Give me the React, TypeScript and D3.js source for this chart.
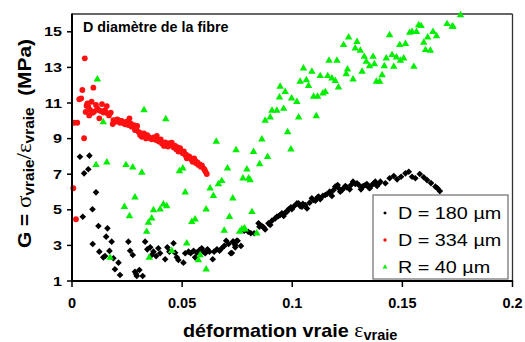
import React from "react";
import * as d3 from "d3";

const W = 525;
const H = 342;

const xTicks = [0, 0.05, 0.1, 0.15, 0.2];
const xTickLabels = ["0", "0.05", "0.1", "0.15", "0.2"];
const yTicks = [1, 3, 5, 7, 9, 11, 13, 15];
const legendLabels = ["D = 180 µm", "D = 334 µm", "R = 40 µm"];
const seriesColors = ["#000000", "#ff1010", "#00ee00"];
const titleText = "D diamètre de la fibre";

// D = 180 µm (black diamonds)
const d180: [number, number][] = [
  [0.0036, 7.98], [0.0079, 8.04], [0.0055, 7.05], [0.0074, 7.28], [0.0109, 5.98], [0.0093, 5.03],
  [0.0049, 4.61], [0.012, 4.09], [0.0161, 3.96], [0.0155, 3.49], [0.018, 3.21], [0.0094, 3.08],
  [0.0124, 2.65], [0.017, 2.69], [0.0142, 2.33], [0.015, 2.4], [0.0188, 2.28], [0.0211, 2.03],
  [0.0195, 1.66], [0.0218, 1.34], [0.0256, 3.21], [0.0264, 2.7], [0.0276, 2.46], [0.0286, 1.52],
  [0.0294, 1.28], [0.0291, 1.39], [0.0306, 1.62], [0.0321, 1.28], [0.0332, 3.21], [0.0342, 2.78],
  [0.0355, 2.89], [0.0362, 2.46], [0.037, 2.65], [0.0382, 2.4], [0.0392, 2.84], [0.04, 2.56],
  [0.0423, 2.22], [0.0433, 2.89], [0.0442, 2.65], [0.0461, 3.12], [0.0468, 2.59], [0.0476, 2.33],
  [0.0483, 2.18], [0.0506, 2.03], [0.0514, 2.56], [0.0529, 2.65], [0.0539, 2.56], [0.0552, 2.7],
  [0.0559, 2.33], [0.0567, 2.59], [0.0579, 2.74], [0.0589, 2.84], [0.0597, 2.65], [0.0605, 2.56],
  [0.0615, 2.78], [0.0624, 2.65], [0.0639, 2.22], [0.0645, 2.65], [0.0658, 2.78], [0.067, 2.7],
  [0.068, 2.84], [0.0691, 2.97], [0.07, 3.26], [0.0711, 3.08], [0.0721, 2.56], [0.073, 3.21],
  [0.0741, 3.02], [0.0752, 3.26], [0.0733, 3.21], [0.0748, 3.26], [0.0767, 2.97], [0.0741, 2.89],
  [0.0726, 2.57], [0.0782, 3.83], [0.08, 3.77], [0.0812, 3.68], [0.0827, 3.68], [0.0847, 4.24],
  [0.0851, 4.05], [0.0862, 4.09], [0.087, 4.02], [0.0877, 3.9], [0.0892, 4.24], [0.09, 4.15],
  [0.0908, 4.39], [0.0923, 4.52], [0.093, 4.61], [0.0938, 4.65], [0.0945, 4.71], [0.0953, 4.8],
  [0.0961, 4.65], [0.0968, 4.84], [0.0976, 4.89], [0.0983, 5.03], [0.0994, 5.14], [0.0998, 5.03],
  [0.1009, 5.21], [0.1021, 5.36], [0.1029, 5.36], [0.1036, 5.21], [0.1044, 5.17], [0.1048, 5.33],
  [0.1059, 5.27], [0.1067, 5.08], [0.1079, 5.4], [0.1089, 5.65], [0.1097, 5.55], [0.1105, 5.51],
  [0.1115, 5.7], [0.112, 5.74], [0.1127, 5.59], [0.1139, 5.78], [0.115, 5.83], [0.1158, 5.89],
  [0.117, 6.02], [0.1173, 5.93], [0.118, 5.78], [0.1188, 6.11], [0.1195, 6.3], [0.1206, 6.39],
  [0.1211, 6.21], [0.1218, 6.02], [0.1226, 6.11], [0.1233, 6.21], [0.1241, 6.34], [0.1248, 6.26],
  [0.1261, 6.15], [0.1267, 6.39], [0.1276, 6.58], [0.1286, 6.45], [0.1294, 6.49], [0.1302, 6.39],
  [0.1312, 6.15], [0.1317, 6.3], [0.1324, 6.34], [0.1332, 6.39], [0.1339, 6.45], [0.1347, 6.26],
  [0.1352, 6.21], [0.1362, 6.39], [0.137, 6.49], [0.1377, 6.58], [0.1385, 6.34], [0.1392, 6.45],
  [0.14, 6.58], [0.1423, 6.49], [0.1442, 6.77], [0.1461, 6.9], [0.1476, 6.71], [0.1494, 6.86],
  [0.1514, 7.05], [0.1529, 7.14], [0.1544, 6.86], [0.1559, 6.77], [0.1579, 7.01], [0.1597, 6.83],
  [0.1612, 6.67], [0.163, 6.5], [0.165, 6.3], [0.166, 6.2], [0.167, 6.05],
];

// D = 334 µm (red circles)
const d334: [number, number][] = [
  [0.0006, 6.21], [0.0018, 4.47], [0.0009, 9.89], [0.0024, 9.89], [0.0055, 9.02], [0.0058, 13.51],
  [0.0047, 11.73], [0.0033, 11.21], [0.0042, 11.26], [0.0097, 11.86], [0.007, 10.98], [0.0074, 10.79],
  [0.0082, 10.61], [0.0089, 11.07], [0.0109, 10.89], [0.01, 10.51], [0.012, 10.61], [0.0124, 10.14],
  [0.0136, 10.94], [0.0143, 10.46], [0.0158, 10.83], [0.0161, 10.42], [0.0176, 10.46], [0.0188, 10.04],
  [0.0185, 9.82], [0.02, 9.95], [0.0211, 10.04], [0.0218, 9.89], [0.0226, 10.0], [0.0236, 9.85],
  [0.0248, 9.95], [0.0261, 10.14], [0.0256, 9.76], [0.0271, 9.67], [0.0282, 9.76], [0.0286, 9.48],
  [0.0302, 9.38], [0.0309, 9.2], [0.0317, 9.1], [0.0327, 9.29], [0.0336, 9.01], [0.0347, 9.1],
  [0.0362, 8.96], [0.037, 9.07], [0.0385, 9.15], [0.0382, 8.92], [0.0397, 8.83], [0.0408, 8.74],
  [0.0418, 8.59], [0.043, 8.64], [0.0442, 8.74], [0.0453, 8.77], [0.0461, 8.51], [0.0473, 8.4],
  [0.0483, 8.27], [0.0491, 8.46], [0.0503, 8.18], [0.0514, 8.08], [0.0521, 7.89], [0.0533, 7.98],
  [0.0544, 7.8], [0.0555, 7.89], [0.0564, 7.61], [0.0574, 7.52], [0.0585, 7.42], [0.0597, 7.33],
  [0.0612, 7.01], [0.019, 9.98], [0.0205, 10.08], [0.023, 9.92], [0.0242, 9.8], [0.0266, 9.85],
  [0.0292, 9.55], [0.0296, 9.72], [0.0312, 9.3], [0.033, 9.15], [0.0342, 9.2], [0.0355, 9.02],
  [0.0376, 8.98], [0.039, 8.88], [0.0403, 8.95], [0.0413, 8.68], [0.0424, 8.78], [0.0436, 8.55],
  [0.0448, 8.62], [0.0467, 8.6], [0.0478, 8.52], [0.0495, 8.3], [0.0508, 8.28], [0.0518, 8.1],
  [0.0527, 8.02], [0.0538, 7.9], [0.0548, 7.7], [0.056, 7.75], [0.057, 7.66], [0.058, 7.55],
  [0.059, 7.5], [0.0602, 7.25], [0.0606, 7.15], [0.0115, 10.7], [0.013, 10.55], [0.015, 10.6],
  [0.0168, 10.3], [0.0062, 10.5], [0.0066, 10.85], [0.0078, 10.3], [0.0093, 10.45],
];

// R = 40 µm (green triangles)
const r40: [number, number][] = [
  [0.0115, 12.33], [0.0142, 9.92], [0.0109, 7.52], [0.0158, 7.67], [0.0245, 7.52], [0.0276, 7.39],
  [0.0317, 7.09], [0.0327, 10.6], [0.0426, 10.1], [0.0488, 7.18], [0.0503, 7.33], [0.0238, 5.17],
  [0.0261, 4.65], [0.0286, 5.7], [0.0173, 2.31], [0.0339, 3.77], [0.0347, 4.28], [0.0362, 4.52],
  [0.037, 4.99], [0.04, 5.03], [0.0415, 5.31], [0.043, 5.21], [0.0351, 2.31], [0.0453, 2.7],
  [0.0514, 5.98], [0.0544, 4.33], [0.0559, 4.47], [0.0521, 3.12], [0.0574, 2.18], [0.0582, 2.46],
  [0.0609, 1.66], [0.0655, 8.83], [0.0609, 5.03], [0.0627, 6.21], [0.0642, 5.78], [0.0665, 6.45],
  [0.068, 6.62], [0.0706, 7.33], [0.073, 5.65], [0.0715, 4.61], [0.0691, 3.83], [0.0761, 3.77],
  [0.0782, 3.96], [0.0839, 3.68], [0.0817, 4.88], [0.0745, 8.36], [0.0776, 6.77], [0.0802, 6.77],
  [0.0794, 7.27], [0.0824, 8.26], [0.0852, 7.57], [0.0862, 8.96], [0.0877, 10.01], [0.0888, 7.98],
  [0.09, 10.2], [0.0908, 10.57], [0.093, 10.57], [0.0942, 11.32], [0.0945, 11.92], [0.0961, 10.68],
  [0.0968, 11.63], [0.0979, 9.37], [0.0994, 8.4], [0.0997, 11.26], [0.1021, 11.07], [0.1029, 10.2],
  [0.1036, 12.2], [0.1051, 12.95], [0.1064, 12.29], [0.1074, 11.96], [0.1089, 12.76], [0.1097, 11.36],
  [0.1115, 11.36], [0.1109, 10.27], [0.1127, 12.52], [0.1139, 11.54], [0.115, 11.62], [0.1161, 12.52],
  [0.1167, 13.38], [0.118, 12.39], [0.1195, 12.25], [0.1203, 13.38], [0.121, 11.88], [0.1233, 14.26],
  [0.1245, 12.63], [0.1251, 12.89], [0.1256, 14.69], [0.1276, 12.33], [0.1286, 14.07], [0.1294, 14.44],
  [0.1309, 13.94], [0.1317, 12.76], [0.1327, 13.6], [0.1336, 13.32], [0.1351, 13.08], [0.1367, 13.6],
  [0.1373, 13.19], [0.1382, 12.2], [0.1397, 12.2], [0.1408, 12.57], [0.1418, 13.08], [0.1427, 13.51],
  [0.1442, 14.82], [0.1453, 13.7], [0.1461, 13.04], [0.1473, 13.57], [0.1491, 13.38], [0.1488, 14.26],
  [0.1506, 13.51], [0.1514, 14.32], [0.1533, 14.95], [0.1544, 15.0], [0.1552, 13.04], [0.1564, 15.0],
  [0.1574, 15.38], [0.1585, 15.33], [0.1597, 14.39], [0.1605, 13.98], [0.1627, 13.94], [0.1615, 14.69],
  [0.1639, 15.0], [0.1655, 14.76], [0.1703, 15.44], [0.1726, 15.29], [0.173, 15.29], [0.1764, 15.94],
  [0.0771, 3.9], [0.0786, 3.9], [0.0809, 6.67],
];

const SANS = "'Liberation Sans', Arial, sans-serif";
const SERIF = "'Liberation Serif', 'DejaVu Serif', serif";

export default function App() {
  const left = 72, right = 512.5, top = 14, bottom = 281;
  const x = d3.scaleLinear().domain([0, 0.2]).range([left, right]);
  const y = d3.scaleLinear().domain([1, 16]).range([bottom, top]);

  const diamond = d3.symbol(d3.symbolSquare, 22)()!;
  const tri = d3.symbol(d3.symbolTriangle, 24)()!;
  const diamondSmall = d3.symbol(d3.symbolSquare, 7)()!;
  const triSmall = d3.symbol(d3.symbolTriangle, 10)()!;

  const legendX = 373, legendY = 195, legendW = 135, legendH = 84;
  const legendRows = [213, 240, 267];

  const drawMarker = (i: number, cx: number, cy: number, small: boolean, key: string) => {
    if (i === 0)
      return <path key={key} d={small ? diamondSmall : diamond} transform={`translate(${cx},${cy}) rotate(45)`} fill={seriesColors[0]} />;
    if (i === 1)
      return <circle key={key} cx={cx} cy={cy} r={small ? 1.7 : 2.9} fill={seriesColors[1]} />;
    return <path key={key} d={small ? triSmall : tri} transform={`translate(${cx},${cy})`} fill={seriesColors[2]} />;
  };

  const series = [d180, d334, r40];

  return (
    <svg width={W} height={H} style={{ position: "absolute", left: 0, top: 0, background: "#fff" }}>
      <rect x={0} y={0} width={W} height={H} fill="#fff" />
      {/* frame */}
      <line x1={left} x2={right} y1={top} y2={top} stroke="#333" strokeWidth={1.3} />
      <line x1={right} x2={right} y1={top} y2={bottom} stroke="#333" strokeWidth={1.3} />

      {/* data */}
      {series.map((s, i) => (
        <g key={i}>{s.map((d, j) => drawMarker(i, x(d[0]), y(d[1]), false, `${i}-${j}`))}</g>
      ))}

      {/* axes */}
      <line x1={left} x2={left} y1={top - 0.6} y2={bottom + 1} stroke="#000" strokeWidth={2} />
      <line x1={left - 1} x2={right + 0.6} y1={bottom} y2={bottom} stroke="#000" strokeWidth={2} />
      {yTicks.map((t) => (
        <g key={t}>
          <line x1={left - 5} x2={left} y1={y(t)} y2={y(t)} stroke="#000" strokeWidth={1.5} />
          <text
            transform={`translate(${left - 10},${y(t)}) scale(1.2,1)`}
            textAnchor="end"
            dominantBaseline="central"
            fontFamily={SANS}
            fontWeight="bold"
            fontSize={13.5}
            fill="#000"
          >
            {t}
          </text>
        </g>
      ))}
      {xTicks.map((t, i) => (
        <g key={t}>
          <line x1={x(t)} x2={x(t)} y1={bottom} y2={bottom + 6} stroke="#000" strokeWidth={1.5} />
          <text x={x(t)} y={308} textAnchor="middle" fontFamily={SANS} fontWeight="bold" fontSize={14.5} fill="#000">
            {xTickLabels[i]}
          </text>
        </g>
      ))}

      {/* title */}
      <text x={83} y={32} fontFamily={SANS} fontWeight="bold" fontSize={14.3} fill="#000">
        {titleText}
      </text>

      {/* legend */}
      <rect x={legendX} y={legendY} width={legendW} height={legendH} fill="#fff" stroke="#777" strokeWidth={1.3} />
      {legendLabels.map((l, i) => (
        <g key={l}>
          {drawMarker(i, 385, legendRows[i], true, `lg${i}`)}
          <text
            transform={`translate(398,${legendRows[i] + 5.5}) scale(1.2,1)`}
            fontFamily={SANS}
            fontSize={16.5}
            fill="#000"
          >
            {l}
          </text>
        </g>
      ))}

      {/* x label */}
      <text
        transform="translate(183,337) scale(1.04,1)"
        fontFamily={SANS}
        fontWeight="bold"
        fontSize={19}
        fill="#000"
      >
        <tspan>déformation vraie </tspan>
        <tspan fontFamily={SERIF} fontWeight="normal" fontSize={21}>ε</tspan>
        <tspan fontSize={14} dy={3}>vraie</tspan>
      </text>

      {/* y label */}
      <text
        transform={`translate(31,248) rotate(-90) scale(1.1,1)`}
        textAnchor="start"
        fontFamily={SANS}
        fontWeight="bold"
        fontSize={19}
        fill="#000"
      >
        <tspan>G = </tspan>
        <tspan fontFamily={SERIF} fontWeight="normal" fontSize={21}>σ</tspan>
        <tspan fontSize={14} dy={3}>vraie</tspan>
        <tspan dy={-3} fontFamily={SERIF} fontWeight="normal" fontSize={21}>/ε</tspan>
        <tspan fontSize={14} dy={3}>vraie</tspan>
        <tspan dy={-3}>{"\u00a0\u00a0(MPa)"}</tspan>
      </text>
    </svg>
  );
}
